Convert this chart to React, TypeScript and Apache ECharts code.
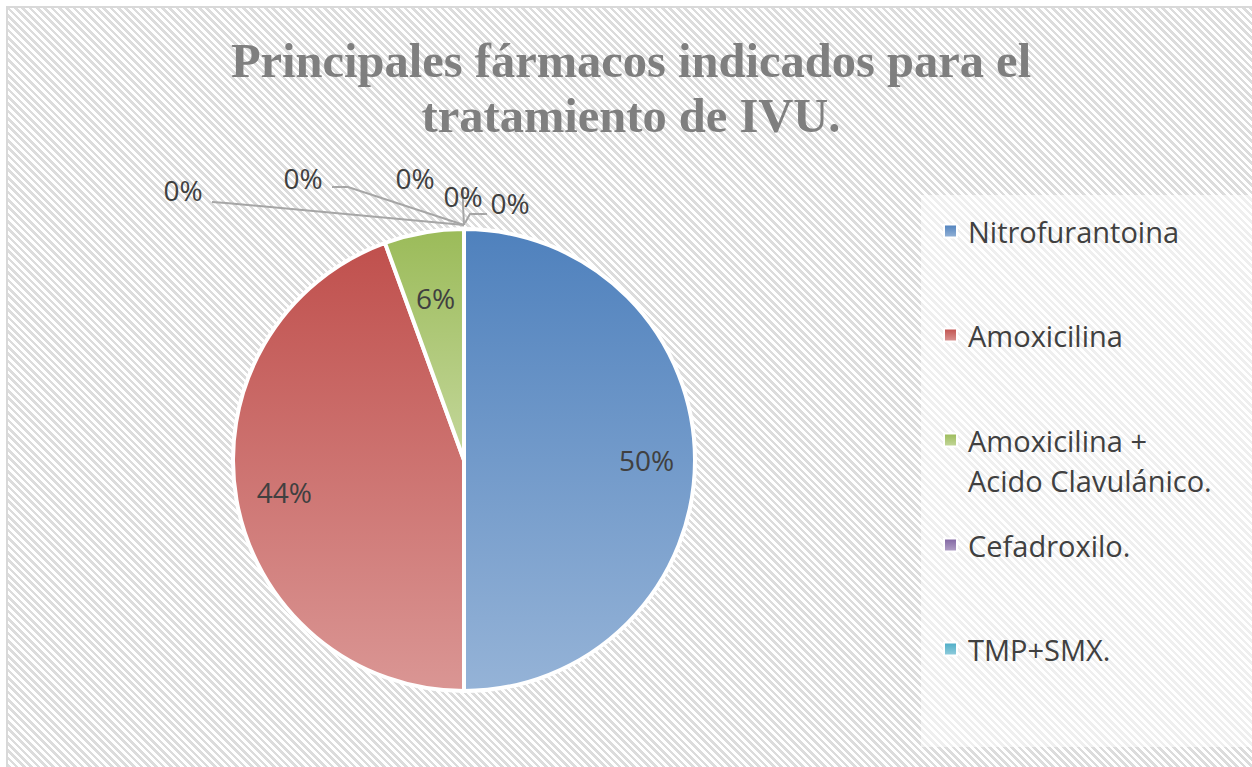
import React, { useEffect, useRef } from "react";
import * as echarts from "echarts";

const categories = [
  "Nitrofurantoina",
  "Amoxicilina",
  "Amoxicilina + Acido Clavulánico.",
  "Cefadroxilo.",
  "TMP+SMX.",
  "Otro 1",
  "Otro 2",
  "Otro 3",
];
const values = [9, 8, 1, 0, 0, 0, 0, 0];
const legendNames = categories.slice(0, 5);
// legend wrapping of the long name: first line in the legend, continuation below
const legendFirstLines = ["Nitrofurantoina", "Amoxicilina", "Amoxicilina +", "Cefadroxilo.", "TMP+SMX."];
const legendContinuation = ["", "", "Acido Clavulánico.", "", ""];
const topColors = ["#4F81BD", "#C0504D", "#9BBB59", "#8064A2", "#4BACC6", "#F79646", "#2C4D75", "#772C2A"];
const bottomColors = ["#95B3D7", "#DA9694", "#C4D79B", "#B3A2C7", "#93CDDD", "#FAC090", "#6E8DB5", "#B36A68"];
const titleText = "Principales fármacos indicados para el\ntratamiento de IVU.";

// layout constants
const CX = 464;
const CY = 460;
const R = 231;
const legendCenters = [231, 335, 440, 545, 649];
const zeroSpots = [
  { x: 183, y: 190, line: [[464, 225], [226, 203], [212, 202]] },
  { x: 303, y: 178, line: [[464, 225], [348, 187], [332, 187]] },
  { x: 415, y: 178, line: [[464, 225], [463, 205], [463, 187]] },
  { x: 463, y: 196, line: null as number[][] | null },
  { x: 510, y: 203, line: [[465, 223], [470, 214], [487, 214]] },
];

export default function App() {
  const ref = useRef<HTMLDivElement>(null);
  useEffect(() => {
    if (!ref.current) return;
    const chart = echarts.init(ref.current, null, { renderer: "svg" });
    const total = values.reduce((a, b) => a + b, 0);
    const zeroIdx = values.map((v, i) => (v === 0 ? i : -1)).filter((i) => i >= 0);
    const font = "Open Sans";
    const legendFont = 29;
    const graphics: any[] = [
      {
        type: "rect",
        shape: { x: 921, y: 195, width: 331, height: 552 },
        style: { fill: "rgba(255,255,255,0.55)" },
        z: 0,
      },
      {
        type: "text",
        x: 631,
        y: 33,
        style: {
          text: titleText,
          textAlign: "center",
          textVerticalAlign: "top",
          fontFamily: "Liberation Serif",
          fontWeight: "bold",
          fontSize: 48.5,
          lineHeight: 55,
          fill: "#7F7F7F",
        },
        z: 5,
      },
    ];
    legendContinuation.forEach((t, k) => {
      if (!t) return;
      graphics.push({
        type: "text",
        x: 962 + 6,
        y: legendCenters[k] + 40,
        style: {
          text: t,
          textAlign: "left",
          textVerticalAlign: "middle",
          fontFamily: font,
          fontSize: legendFont,
          fill: "#404040",
        },
        z: 5,
      });
    });
    chart.setOption({
      animation: false,
      backgroundColor: "transparent",
      graphic: graphics,
      legend: legendNames.map((name, k) => ({
        data: [name],
        orient: "vertical",
        left: 943,
        top: legendCenters[k] - 20,
        itemWidth: 13,
        itemHeight: 13,
        icon: "rect",
        selectedMode: false,
        padding: 0,
        formatter: () => legendFirstLines[k],
        textStyle: {
          fontSize: legendFont,
          fontFamily: font,
          color: "#404040",
          lineHeight: 40,
          padding: [0, 0, 0, 6],
        },
      })),
      series: [
        {
          type: "pie",
          center: [CX, CY],
          radius: R,
          startAngle: 90,
          clockwise: true,
          avoidLabelOverlap: false,
          itemStyle: { borderColor: "#ffffff", borderWidth: 4 },
          label: {
            show: true,
            formatter: (p: any) => Math.round(p.percent) + "%",
            color: "#404040",
            fontSize: 28,
            fontFamily: font,
          },
          labelLine: { show: true, length: 10, length2: 10, lineStyle: { color: "#A6A6A6", width: 2 } },
          labelLayout: (p: any) => {
            const i = p.dataIndex;
            if (values[i] > 0) {
              let before = 0;
              for (let k = 0; k < i; k++) before += values[k];
              const frac = values[i] / total;
              const mid = ((before + values[i] / 2) / total) * 2 * Math.PI;
              const ratio = frac < 0.1 ? 0.71 : 0.79;
              return {
                x: CX + Math.sin(mid) * R * ratio,
                y: CY - Math.cos(mid) * R * ratio,
                align: "center",
                verticalAlign: "middle",
              };
            }
            const s = zeroSpots[zeroIdx.indexOf(i)];
            const res: any = { x: s.x, y: s.y, align: "center", verticalAlign: "middle" };
            if (s.line) res.labelLinePoints = s.line;
            return res;
          },
          data: categories.map((name, i) => {
            const z = zeroIdx.indexOf(i);
            return {
              name,
              value: values[i],
              itemStyle: {
                color: new echarts.graphic.LinearGradient(0, 0, 0, 1, [
                  { offset: 0, color: topColors[i] },
                  { offset: 1, color: bottomColors[i] },
                ]),
              },
              label: values[i] > 0 ? { position: "inside" } : { position: "outside" },
              labelLine: { show: values[i] === 0 && z >= 0 && !!zeroSpots[z].line },
            };
          }),
        },
      ],
    });
    return () => chart.dispose();
  }, []);

  return (
    <div style={{ position: "fixed", left: 0, top: 0, width: 1252, height: 767, background: "#ffffff", overflow: "hidden" }}>
      <div
        style={{
          position: "absolute",
          left: 6,
          top: 6,
          right: -4,
          bottom: -4,
          borderLeft: "2px solid #D9D9D9",
          borderTop: "2px solid #D9D9D9",
          background:
            "repeating-linear-gradient(45deg, #ffffff 0px, #ffffff 2.6px, #DCDCDC 2.6px, #DCDCDC 5.2px)",
        }}
      />
      <div ref={ref} style={{ position: "absolute", left: 0, top: 0, width: 1252, height: 767 }} />
    </div>
  );
}
